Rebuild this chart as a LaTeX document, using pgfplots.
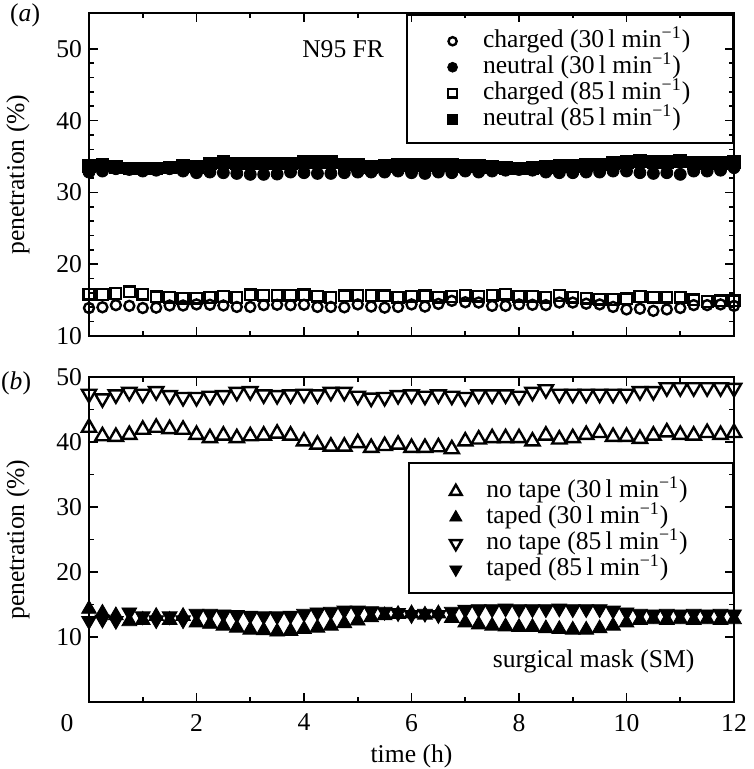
\documentclass[border=0pt]{standalone}
\usepackage{fontspec}
\setmainfont{Liberation Serif}
\usepackage{pgfplots}
\usepackage{pgfplotstable}
\pgfplotsset{compat=1.18}

\pgfplotstableread{
t     c30   n30   c85   n85
0.00  13.90 32.84 15.83 33.73
0.25  14.00 32.98 15.78 33.80
0.50  14.30 33.31 15.92 33.60
0.75  14.20 33.20 16.15 33.36
1.00  13.90 32.98 15.83 33.36
1.25  13.95 33.10 15.45 33.36
1.50  14.25 33.31 15.40 33.50
1.75  14.25 32.98 15.26 33.70
2.00  14.40 32.75 15.26 33.60
2.25  14.35 32.84 15.36 34.05
2.50  14.25 32.75 15.50 34.20
2.75  14.05 32.65 15.36 34.05
3.00  14.05 32.52 15.73 34.05
3.25  14.30 32.52 15.69 34.05
3.50  14.35 32.56 15.69 34.05
3.75  14.30 32.84 15.69 34.05
4.00  14.35 32.75 15.73 34.20
4.25  14.05 32.65 15.55 34.30
4.50  14.05 32.65 15.36 34.20
4.75  14.00 32.75 15.60 33.90
5.00  14.40 32.84 15.64 33.80
5.25  14.10 32.84 15.64 33.60
5.50  13.95 32.84 15.60 33.69
5.75  14.05 32.98 15.40 33.83
6.00  14.40 32.75 15.55 33.83
6.25  14.10 32.65 15.60 33.83
6.50  14.47 32.84 15.40 33.83
6.75  14.90 32.75 15.50 33.83
7.00  14.70 32.98 15.69 33.69
7.25  14.66 32.84 15.55 33.69
7.50  14.20 32.98 15.69 33.60
7.75  14.20 33.10 15.83 33.45
8.00  14.40 33.20 15.55 33.36
8.25  14.35 33.10 15.50 33.45
8.50  14.30 32.84 15.40 33.55
8.75  14.66 32.75 15.64 33.69
9.00  14.66 32.75 15.40 33.69
9.25  14.50 32.84 15.26 33.83
9.50  14.40 32.84 15.13 33.90
9.75  14.05 32.98 15.08 34.15
10.00 13.70 32.98 15.17 34.25
10.25 13.80 32.75 15.50 34.34
10.50 13.50 32.65 15.40 34.25
10.75 13.70 32.75 15.40 34.25
11.00 13.90 32.52 15.40 34.34
11.25 14.30 32.98 15.03 34.15
11.50 14.30 32.98 14.80 34.06
11.75 14.40 33.10 14.90 34.06
12.00 14.20 33.45 14.90 34.25
}\toptab

\pgfplotstableread{
t     nt30  tp30  nt85  tp85
0.00  42.2  14.3  47.4  12.5
0.25  40.9  13.7  46.7  12.7
0.50  40.8  13.3  47.3  12.5
0.75  41.1  12.4  47.7  13.8
1.00  41.9  12.6  47.4  13.2
1.25  42.2  13.2  47.8  12.6
1.50  42.0  12.6  47.2  13.2
1.75  41.9  13.2  46.9  12.6
2.00  41.1  12.2  46.9  13.6
2.25  40.6  12.0  47.1  13.6
2.50  41.0  11.7  47.2  13.5
2.75  40.6  11.4  47.7  13.4
3.00  40.9  11.1  47.8  13.3
3.25  41.0  11.0  47.3  13.2
3.50  41.3  10.8  47.2  13.2
3.75  41.0  10.9  47.3  13.3
4.00  40.1  11.2  47.4  13.6
4.25  39.6  11.4  47.3  13.8
4.50  39.3  11.7  47.7  13.9
4.75  39.3  12.1  47.7  14.1
5.00  39.85 12.5  47.1  14.1
5.25  39.1  13.0  46.8  14.0
5.50  39.4  13.3  46.9  13.9
5.75  39.6  13.5  47.2  13.7
6.00  39.1  13.6  47.3  13.4
6.25  39.1  13.4  47.1  13.6
6.50  39.2  13.6  47.3  13.4
6.75  38.9  12.9  47.1  13.9
7.00  40.1  12.2  46.9  14.2
7.25  40.4  11.9  47.3  14.3
7.50  40.6  11.7  47.3  14.3
7.75  40.6  11.6  47.3  14.4
8.00  40.6  11.5  47.1  14.3
8.25  40.1  11.5  47.7  14.3
8.50  41.0  11.3  48.1  14.3
8.75  40.4  11.2  47.4  14.4
9.00  40.6  11.1  47.4  14.3
9.25  41.1  11.1  47.4  14.3
9.50  41.4  11.3  47.4  14.3
9.75  40.8  11.7  47.4  14.1
10.00 40.8  12.2  47.4  13.8
10.25 40.5  12.6  47.8  13.6
10.50 41.0  12.7  47.8  13.5
10.75 41.5  12.6  48.4  13.6
11.00 41.1  12.7  48.4  13.5
11.25 41.0  12.6  48.4  13.6
11.50 41.4  12.7  48.4  13.5
11.75 41.1  12.6  48.4  13.6
12.00 41.4  12.7  48.3  13.5
}\bottab

\begin{document}
\begin{tikzpicture}[font=\fontsize{12.8}{15}\selectfont]
\useasboundingbox (-44.5pt,-33.5pt) rectangle (332pt,351pt);
\pgfplotsset{
  mk/.style={only marks,
    legend image code/.code={%
      \path (0cm,0cm) (0.6cm,0cm);
      \draw[##1,/tikz/only marks,every mark/.append style={scale=0.82}] plot coordinates {(0.3cm,0cm)};}},
  panel/.style={
    width=322.5pt, scale only axis, clip=false,
    xmin=0, xmax=12, xtick={0,2,...,12}, minor x tick num=1,
    /pgf/number format/assume math mode=true,
    tick align=inside, major tick length=4.5pt, minor tick length=2.5pt,
    every tick/.style={line width=0.8pt, black},
    xticklabel style={yshift=-2.5pt},
    ylabel={penetration (\%)},
    ylabel style={at={(axis description cs:-0.110,0.5)}, anchor=center},
    legend cell align=left,
    legend style={draw=none, fill=none, anchor=north west, inner sep=0pt,
      column sep=6.5pt, row sep=0pt,
      nodes={inner sep=0pt, text height=9.5pt, text depth=3.5pt}},
  }
}
% ---------- panel (a) ----------
\begin{axis}[panel, name=top, at={(0pt,183pt)}, anchor=south west,
  height=161.5pt, ymin=10, ymax=55, ytick={10,20,...,50}, minor y tick num=4,
  xticklabels={}, axis line style={line width=1pt},
  legend style={at={(axis description cs:0.536,0.954)}}]
\addplot[mk, mark=o, mark size=2.5pt, mark options={line width=1.2pt}] table[x=t,y=c30]{\toptab};
\addlegendentry{charged (30\,l min\textsuperscript{−1})}
\addplot[mk, mark=*, mark size=3.0pt] table[x=t,y=n30]{\toptab};
\addlegendentry{neutral (30\,l min\textsuperscript{−1})}
\addplot[mk, mark=square, mark size=2.7pt, mark options={line width=1.2pt}] table[x=t,y=c85]{\toptab};
\addlegendentry{charged (85\,l min\textsuperscript{−1})}
\addplot[mk, mark=square*, mark size=3.2pt] table[x=t,y=n85]{\toptab};
\addlegendentry{neutral (85\,l min\textsuperscript{−1})}
\draw[line width=1pt] (axis description cs:0.493,0.994) rectangle (axis description cs:0.998,0.598);
\node[anchor=west, inner sep=0pt] at (axis cs:3.96,50) {N95 FR};
\node[anchor=center, inner sep=0pt] at (axis description cs:-0.099,0.994) {(\textit{a})};
\end{axis}
% ---------- panel (b) ----------
\begin{axis}[panel, name=bot, at={(0pt,0pt)}, anchor=south west,
  height=162.5pt, ymin=0, ymax=50, ytick={10,20,...,50}, minor y tick num=1,
  xticklabels={{\makebox[0pt]{\hspace{-22pt}0}},2,4,6,8,10,12},
  xlabel={time (h)},
  xlabel style={at={(axis description cs:0.5,-0.166)}, anchor=center},
  axis line style={line width=1.3pt},
  legend style={at={(axis description cs:0.541,0.689)}}]
\addplot[mk, mark=triangle, mark size=4.1pt, mark options={line width=1.2pt}] table[x=t,y=nt30]{\bottab};
\addlegendentry{no tape (30\,l min\textsuperscript{−1})}
\addplot[mk, mark=triangle*, mark size=4.3pt, fill=black] table[x=t,y=tp30]{\bottab};
\addlegendentry{taped (30\,l min\textsuperscript{−1})}
\addplot[mk, mark=triangle, mark size=4.1pt, mark options={line width=1.2pt, rotate=180}] table[x=t,y=nt85]{\bottab};
\addlegendentry{no tape (85\,l min\textsuperscript{−1})}
\addplot[mk, mark=triangle*, mark size=4.3pt, fill=black, mark options={rotate=180}] table[x=t,y=tp85]{\bottab};
\addlegendentry{taped (85\,l min\textsuperscript{−1})}
\draw[line width=1pt] (axis description cs:0.496,0.735) rectangle (axis description cs:0.998,0.335);
\node[anchor=east, inner sep=0pt] at (axis cs:11.27,6.2) {surgical mask (SM)};
\node[anchor=center, inner sep=0pt] at (axis description cs:-0.113,0.98) {(\textit{b})};
\end{axis}
\end{tikzpicture}
\end{document}
